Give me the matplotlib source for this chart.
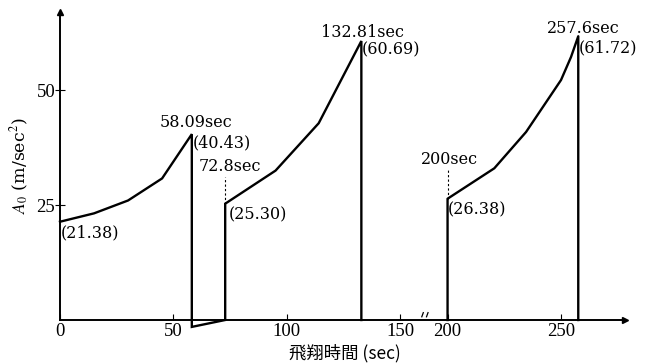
import matplotlib.pyplot as plt
import numpy as np

# acceleration A0 vs. flight time, three burn stages
stage1_t = [0, 15, 30, 45, 58.09]
stage1_a = [21.38, 23.2, 26.0, 30.8, 40.43]

coast_t = [58.09, 72.8]
coast_a = [-1.5, 0]

stage2_t = [72.8, 95, 114, 132.81]
stage2_a = [25.30, 32.5, 42.8, 60.69]

stage3_t = [200, 220.6, 234.6, 250, 254.4, 257.6]
stage3_a = [26.38, 33.0, 40.9, 52.2, 57.2, 61.72]

x_ticks = [0, 50, 100, 150, 200, 250]
y_ticks = [25, 50]

# broken time axis: 150..200 s squeezed into a short gap
GAP_LO, GAP_HI, GAP_CUT = 150.0, 200.0, 29.2


def fwd(t):
    t = np.asarray(t, dtype=float)
    return t - GAP_CUT * np.clip((t - GAP_LO) / (GAP_HI - GAP_LO), 0, 1)


def inv(u):
    u = np.asarray(u, dtype=float)
    w = GAP_HI - GAP_LO - GAP_CUT
    lo = GAP_LO
    hi = GAP_HI - GAP_CUT
    mid = lo + (u - lo) * (GAP_HI - GAP_LO) / w
    return np.where(u <= lo, u, np.where(u >= hi, u + GAP_CUT, mid))


plt.rcParams["font.family"] = ["Liberation Serif", "Noto Sans CJK JP"]
plt.rcParams["mathtext.fontset"] = "stix"

fig = plt.figure(figsize=(6.51, 3.64), dpi=100)
ax = fig.add_axes([60 / 651, 44 / 364, 565 / 651, 308 / 364])
ax.set_xscale("function", functions=(fwd, inv))
ax.set_xlim(0, 278.2)
ax.set_ylim(0, 67)

lw = 1.7
path_t = stage1_t + coast_t + stage2_t + [stage2_t[-1]]
path_a = stage1_a + coast_a + stage2_a + [0]
ax.plot(path_t, path_a, color="black", lw=lw, clip_on=False, solid_joinstyle="miter")
ax.plot([stage3_t[0]] + stage3_t + [stage3_t[-1]],
        [0] + stage3_a + [0], color="black", lw=lw, clip_on=False)

# ignition markers
ax.plot([72.8, 72.8], [25.30, 31.2], color="black", lw=0.8, ls=(0, (2, 2)))
ax.plot([200, 200], [26.38, 32.6], color="black", lw=0.8, ls=(0, (2, 2)))

notes = [
    ("58.09sec", (58.09, 40.43), (4, 3), "center", "bottom"),
    ("(40.43)", (58.09, 40.43), (1, -9), "left", "center"),
    ("72.8sec", (72.8, 25.30), (5, 29), "center", "bottom"),
    ("(25.30)", (72.8, 25.30), (4, -11), "left", "center"),
    ("(21.38)", (0, 21.38), (1, -11), "left", "center"),
    ("132.81sec", (132.81, 60.69), (1, 0), "center", "bottom"),
    ("(60.69)", (132.81, 60.69), (0, -9), "left", "center"),
    ("200sec", (200, 26.38), (2, 31), "center", "bottom"),
    ("(26.38)", (200, 26.38), (0, -11), "left", "center"),
    ("257.6sec", (257.6, 61.72), (5, -1), "center", "bottom"),
    ("(61.72)", (257.6, 61.72), (0, -12), "left", "center"),
]
for text, xy, off, ha, va in notes:
    ax.annotate(text, xy=xy, xytext=off, textcoords="offset pixels",
                ha=ha, va=va, family=["DejaVu Serif"], fontsize=11.5)

ax.spines["top"].set_visible(False)
ax.spines["right"].set_visible(False)
ax.spines["left"].set_linewidth(1.4)
ax.spines["bottom"].set_linewidth(1.4)
ax.plot(1, 0, ">k", ms=5, transform=ax.transAxes, clip_on=False)
ax.plot(0, 1, "^k", ms=5, transform=ax.transAxes, clip_on=False)

ax.set_xticks(x_ticks)
ax.set_yticks(y_ticks)
ax.tick_params(axis="x", direction="in", length=4, width=0.8, pad=2, labelsize=13.5)
ax.tick_params(axis="y", direction="inout", length=7, width=0.8, pad=0, labelsize=13.5)

# break marks on the time axis
for xc in (173.5, 178.5):
    ax.plot([xc - 0.8, xc + 0.8], [0.7, 1.6], color="black", lw=0.9, clip_on=False)

fig.text(20 / 651, 1 - 166 / 364, r"$A_0$ (m/sec$^2$)", rotation=90,
         ha="center", va="center", fontsize=12.5, family=["DejaVu Serif"])
fig.text(345 / 651, 1 - 353 / 364, "飛翔時間 (sec)", ha="center", va="center",
         fontsize=12.5, family=["Noto Sans CJK JP"])

fig.savefig("out.png", dpi=100)
